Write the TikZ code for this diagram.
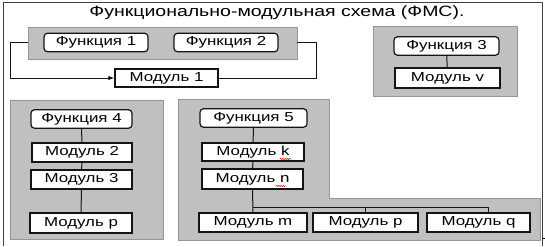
\documentclass[tikz,border=0pt]{standalone}
\usepackage{fontspec}
\setmainfont{Liberation Sans}[FakeStretch=1.3]
\usetikzlibrary{arrows.meta,calc,decorations.pathmorphing}
\definecolor{panelgray}{RGB}{192,192,192}
\definecolor{paneledge}{RGB}{150,150,150}
\definecolor{lineblack}{RGB}{20,20,20}
\begin{document}
\begin{tikzpicture}[x=1pt,y=-1pt,
  panel/.style={fill=panelgray,draw=paneledge,line width=0.8pt},
  func/.style={draw=lineblack,fill=white,line width=1.2pt,rounded corners=3.5pt,inner sep=0pt,
    minimum height=18.5pt,font=\fontsize{13}{15}\selectfont},
  modbox/.style={draw=lineblack,fill=white,line width=1.2pt,inner sep=0pt,
    minimum height=19pt,font=\fontsize{13}{15}\selectfont},
  link/.style={draw=lineblack,line width=1pt},
  spell/.style={draw=red,line width=0.5pt,decorate,decoration={snake,segment length=2.2pt,amplitude=0.7pt}}
]
\useasboundingbox (0,0) rectangle (545,246);
\fill[white] (0,0) rectangle (545,246);
% outer frame
\coordinate (frA) at (3,246);
\coordinate (frB) at (3,3);
\coordinate (frC) at (542,3);
\coordinate (frD) at (542,246);
\draw[draw=black!75,line width=1pt] (frA) -- (frB) -- (frC) -- (frD);
\coordinate (tickA) at (542,238);
\coordinate (tickB) at (545,238);
\draw[line width=1pt] (tickA) -- (tickB);
% title
\node[font=\fontsize{15}{18}\selectfont,inner sep=0pt] (title) at (277,12.5) {Функционально-модульная схема (ФМС).};

% panel 1
\node[panel,inner sep=0pt,minimum width=269pt,minimum height=32pt] (g1) at (162.5,43) {};
\node[func,minimum width=104pt] (f1) at (96,42.5) {Функция 1};
\node[func,minimum width=104pt] (f2) at (226,42.5) {Функция 2};
\node[modbox,minimum width=103pt,minimum height=18pt] (m1) at (166.5,78) {Модуль 1};
\draw[link,-{Latex[length=6pt,width=4.5pt]}] (g1.west) -- ++(-17,0) |- (m1.west);
\draw[link] (g1.east) -- ++(19,0) |- (m1.east);

% panel 3
\node[panel,inner sep=0pt,minimum width=144pt,minimum height=70pt] (g3) at (445,61) {};
\node[func,minimum width=105pt] (f3) at (446.5,46) {Функция 3};
\node[modbox,minimum width=105pt,minimum height=20pt] (mv) at (447.5,78) {Модуль v};
\draw[link] (f3) -- (mv);

% panel 4
\node[panel,inner sep=0pt,minimum width=153pt,minimum height=139pt] (g4) at (86.5,169.5) {};
\node[func,minimum width=101pt] (f4) at (81.5,119) {Функция 4};
\node[modbox,minimum width=100pt] (m2) at (82,152.5) {Модуль 2};
\node[modbox,minimum width=101pt] (m3) at (81.5,179.5) {Модуль 3};
\node[modbox,minimum width=102pt,minimum height=20pt] (mp) at (81,223) {Модуль p};
\draw[link] (f4) -- (m2);
\draw[link] (m2) -- (m3);
\draw[link] (m3) -- (mp);

% panel 5 (L-shaped)
\coordinate (p5a) at (178,99);
\coordinate (p5b) at (329,99);
\coordinate (p5c) at (329,198);
\coordinate (p5d) at (540,198);
\coordinate (p5e) at (540,240);
\coordinate (p5f) at (178,240);
\path[panel] (p5a) -- (p5b) -- (p5c) -- (p5d) -- (p5e) -- (p5f) -- cycle;
\node[func,minimum width=107pt] (f5) at (253.5,118) {Функция 5};
\node[modbox,minimum width=102pt,minimum height=18pt] (mk) at (253,152) {Модуль k};
\node[modbox,minimum width=101pt,minimum height=20pt] (mn) at (252.5,179) {Модуль n};
\node[modbox,minimum width=108pt] (mm) at (253,222.5) {Модуль m};
\node[modbox,minimum width=105pt] (mp2) at (365.5,222.5) {Модуль p};
\node[modbox,minimum width=103pt] (mq) at (478.5,222.5) {Модуль q};
\draw[link] (f5) -- (mk);
\draw[link] (mk) -- (mn);
\coordinate (busy) at (0,207);
\coordinate (busL) at (mn.south |- busy);
\coordinate (busR) at ($(mq.north |- busy)+(9.5,0)$);
\draw[link] (mn.south) -- (mm.north);
\draw[link] (busL) -- (busR) -- (busR |- mq.north);
\draw[link] (mp2.north |- busy) -- (mp2.north);
% spell-check squiggles
\coordinate (sqk1) at (280,159);
\coordinate (sqk2) at (291,159);
\coordinate (sqn1) at (276,186);
\coordinate (sqn2) at (286,186);
\draw[spell] (sqk1) -- (sqk2);
\draw[spell] (sqn1) -- (sqn2);
\end{tikzpicture}
\end{document}
